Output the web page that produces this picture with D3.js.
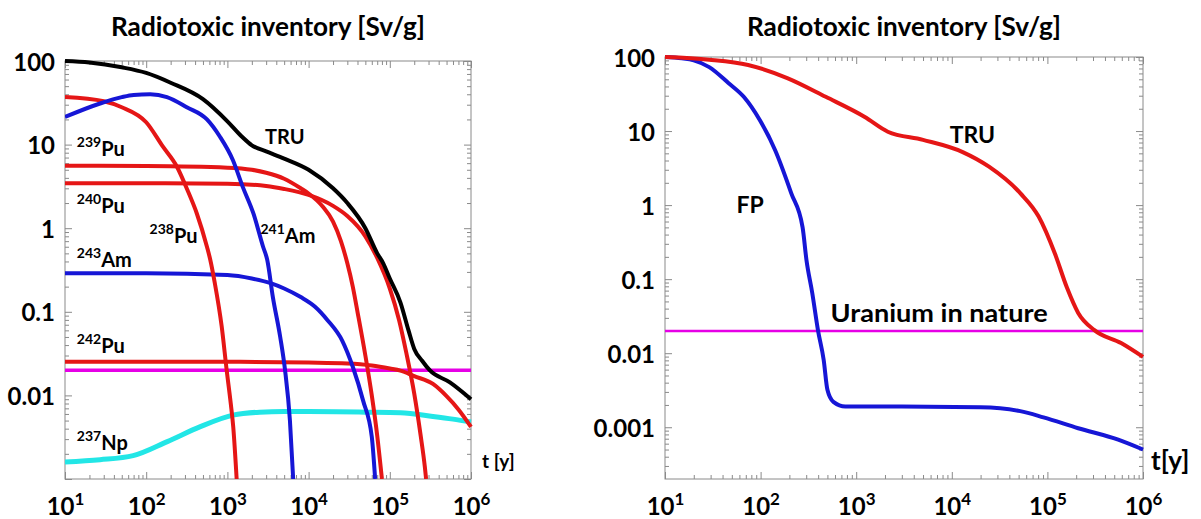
<!DOCTYPE html>
<html><head><meta charset="utf-8">
<script src="https://cdn.jsdelivr.net/npm/d3@7"></script>
<style>
html,body{margin:0;padding:0;background:#fff;}
svg{display:block;font-family:Lato,"Noto Sans",sans-serif;font-weight:bold;}
</style></head>
<body>
<svg id="chart" width="1201" height="519"></svg>
<script>
// ---------- data (year, Sv/g) ----------
const xTickValues = [1e1, 1e2, 1e3, 1e4, 1e5, 1e6];
const xTickExponents = ["1", "2", "3", "4", "5", "6"];
const yTicksLeft = [100, 10, 1, 0.1, 0.01];
const yTicksRight = [100, 10, 1, 0.1, 0.01, 0.001];
const uraniumLevel = 0.02;

const truLeft = [[10,100],[20,96],[50,84],[100,72],[200,55],[500,35],[1000,19],[1500,12.5],[2000,9.8],[3000,8.3],[5000,6.8],[1e4,5.0],[2e4,3.0],[3e4,2.0],[5e4,1.0],[7e4,0.5],[8.3e4,0.38],[1e5,0.25],[1.35e5,0.13],[1.7e5,0.06],[2e5,0.036],[2.5e5,0.026],[3.1e5,0.020],[5.5e5,0.0143],[1e6,0.009]];
const pu238 = [[10,37],[30,33],[50,28],[100,18.5],[160,9.5],[240,5.4],[320,2.9],[420,1.5],[560,0.6],[615,0.42],[700,0.22],[850,0.067],[980,0.02],[1100,0.008],[1180,0.0042],[1300,0.001]];
const am241 = [[10,21.4],[27,31],[50,37],[70,39.3],[112,40],[180,37],[316,28],[560,20],[810,12.4],[1170,6.5],[1550,3.1],[2090,1.5],[2750,0.6],[3090,0.42],[3630,0.15],[4470,0.05],[5130,0.02],[5890,0.005],[6460,0.001]];
const am243 = [[10,0.29],[100,0.29],[1000,0.275],[2000,0.25],[3400,0.22],[5000,0.19],[8000,0.15],[1.2e4,0.115],[1.7e4,0.08],[2.6e4,0.045],[3.5e4,0.022],[4.7e4,0.0086],[6e4,0.0032],[6.6e4,0.001]];
const puUpper = [[10,5.6],[100,5.55],[1000,5.3],[2000,5.0],[3000,4.6],[5000,3.9],[8000,3.0],[1e4,2.6],[1.5e4,1.8],[2e4,1.2],[2.5e4,0.7],[3e4,0.38],[3.5e4,0.2],[4e4,0.1],[5e4,0.03],[6e4,0.01],[7e4,0.0033],[8e4,0.001]];
const puLower = [[10,3.45],[100,3.45],[1000,3.4],[3000,3.2],[5000,2.95],[1e4,2.5],[2e4,1.85],[3e4,1.4],[5e4,0.8],[7e4,0.44],[1e5,0.19],[1.3e5,0.08],[1.6e5,0.032],[2e5,0.0105],[2.4e5,0.0033],[2.7e5,0.0014],[2.8e5,0.001]];
const pu242 = [[10,0.0252],[1e3,0.0252],[1e4,0.0247],[3e4,0.0241],[6e4,0.0228],[1e5,0.021],[1.35e5,0.0198],[2e5,0.017],[3.4e5,0.0137],[5e5,0.0098],[7e5,0.0068],[1e6,0.0042]];
const np237 = [[10,0.0016],[27,0.0017],[69,0.0019],[182,0.0028],[457,0.0042],[1170,0.0058],[2500,0.0063],[5000,0.0064],[1e4,0.0064],[5e4,0.0063],[1.35e5,0.0062],[3.4e5,0.0056],[6e5,0.0052],[1e6,0.0048]];

const truRight = [[10,100],[29,92],[74,78],[190,52],[480,29],[1230,15.5],[2140,9.8],[5000,7.6],[1.3e4,5.2],[2.45e4,3.3],[5.2e4,1.45],[8.1e4,0.7],[1.2e5,0.22],[1.6e5,0.077],[2.1e5,0.035],[3.1e5,0.0205],[5.9e5,0.0137],[1e6,0.0089]];
const fpRight = [[10,100],[15,96],[20,90],[29,73],[46,44.6],[67,28.8],[98,14.1],[142,5.5],[209,1.45],[275,0.5],[302,0.18],[347,0.065],[398,0.0205],[457,0.0081],[500,0.0032],[577,0.0022],[770,0.0019],[3000,0.0019],[2e4,0.00186],[5.2e4,0.00165],[9.1e4,0.00136],[2.1e5,0.00097],[5.5e5,0.00068],[1e6,0.0005]];

// ---------- layout ----------
const svg = d3.select("#chart");
const RED = "#e51616", BLUE = "#1616d6", CYAN = "#22e6e6", MAG = "#e600e6", BLACK = "#000";

function logMinor(lo, hi) {
  const out = [];
  for (let e = Math.floor(Math.log10(lo)); e < Math.ceil(Math.log10(hi)); e++) {
    for (let m = 2; m <= 9; m++) {
      const v = m * Math.pow(10, e);
      if (v > lo && v < hi) out.push(v);
    }
  }
  return out;
}

function panel(cfg) {
  const x = d3.scaleLog().domain([10, 1e6]).range(cfg.xr);
  const y = d3.scaleLog().domain(cfg.yd).range(cfg.yr);
  const g = svg.append("g");
  const [x0, x1] = cfg.xr, [yb, yt] = cfg.yr;
  const W = x1 - x0, H = yb - yt;

  // title
  g.append("text").attr("x", (x0 + x1) / 2).attr("y", 36).attr("text-anchor", "middle")
    .attr("font-size", 26).attr("textLength", 314).attr("lengthAdjust", "spacingAndGlyphs")
    .text("Radiotoxic inventory [Sv/g]");

  // minor + major ticks on all sides (inward)
  const tickCol = "#8a8a8a";
  const xMinor = logMinor(10, 1e6), yMinor = logMinor(cfg.yd[0], cfg.yd[1]);
  const yMajor = d3.range(Math.ceil(Math.log10(cfg.yd[0])), 3).map(e => Math.pow(10, e));
  const mk = (axis, tr) => {
    const a = g.append("g").attr("transform", tr).call(axis);
    a.select(".domain").remove();
    a.selectAll("line").attr("stroke", tickCol);
    return a;
  };
  mk(d3.axisBottom(x).tickValues(xMinor).tickSize(-4).tickFormat(""), `translate(0,${yb})`);
  mk(d3.axisTop(x).tickValues(xMinor).tickSize(-4).tickFormat(""), `translate(0,${yt})`);
  mk(d3.axisTop(x).tickValues(xTickValues).tickSize(-7).tickFormat(""), `translate(0,${yt})`);
  mk(d3.axisLeft(y).tickValues(yMinor).tickSize(-4).tickFormat(""), `translate(${x0},0)`);
  mk(d3.axisRight(y).tickValues(yMinor).tickSize(-4).tickFormat(""), `translate(${x1},0)`);
  mk(d3.axisRight(y).tickValues(yMajor).tickSize(-7).tickFormat(""), `translate(${x1},0)`);

  // bottom axis with labels 10^n
  const xa = mk(d3.axisBottom(x).tickValues(xTickValues).tickSize(-7).tickPadding(19).tickFormat(""), `translate(0,${yb})`);
  xa.selectAll(".tick text").each(function(d, i) {
    const t = d3.select(this).attr("font-size", 24).attr("font-family", "Lato").attr("font-weight", "bold")
      .attr("fill", "#000").attr("dy", "0.71em");
    t.append("tspan").text("10");
    t.append("tspan").attr("dy", -10).attr("font-size", 17).text(xTickExponents[i]);
  });

  // left axis labels
  const ya = mk(d3.axisLeft(y).tickValues(yMajor).tickSize(-7).tickPadding(10)
      .tickFormat(d => cfg.yLabels.includes(d) ? String(d) : ""), `translate(${x0},0)`);
  ya.selectAll(".tick text").attr("font-size", 24).attr("font-family", "Lato").attr("font-weight", "bold")
    .attr("fill", "#000").attr("dy", "0.38em");

  // frame
  g.append("rect").attr("x", x0).attr("y", yt).attr("width", W).attr("height", H)
    .attr("fill", "none").attr("stroke", "#8a8a8a").attr("stroke-width", 1);

  // clip
  const cid = "clip" + cfg.id;
  svg.append("clipPath").attr("id", cid).append("rect")
    .attr("x", x0).attr("y", yt - 3).attr("width", W + 3).attr("height", H + 3);
  const plot = g.append("g").attr("clip-path", `url(#${cid})`);
  const line = d3.line().x(d => x(d[0])).y(d => y(d[1])).curve(d3.curveMonotoneX);

  cfg.series.forEach(s => {
    plot.append("path").datum(s.data).attr("d", line).attr("fill", "none")
      .attr("stroke", s.color).attr("stroke-width", s.w).attr("stroke-linejoin", "round");
  });

  // labels
  cfg.labels.forEach(l => {
    const t = g.append("text").attr("x", l.px != null ? l.px : x(l.t)).attr("y", y(l.v))
      .attr("font-size", l.fs).attr("fill", "#000");
    if (l.sup) {
      t.append("tspan").attr("font-size", l.fs * 0.7).attr("dy", -9).text(l.sup);
      t.append("tspan").attr("dy", 9).text(l.text);
    } else {
      t.text(l.text);
      if (l.len) t.attr("textLength", l.len).attr("lengthAdjust", "spacingAndGlyphs");
    }
  });
}

panel({
  id: "L", xr: [65, 471], yd: [1e-3, 100], yr: [479, 61], yLabels: yTicksLeft,
  series: [
    {data: [[10, uraniumLevel], [1e6, uraniumLevel]], color: MAG, w: 3.5},
    {data: np237, color: CYAN, w: 5},
    {data: pu242, color: RED, w: 4},
    {data: am243, color: BLUE, w: 4},
    {data: pu238, color: RED, w: 4},
    {data: puLower, color: RED, w: 4},
    {data: puUpper, color: RED, w: 4},
    {data: am241, color: BLUE, w: 4},
    {data: truLeft, color: BLACK, w: 4}
  ],
  labels: [
    {text: "TRU", t: 2900, v: 10.2, fs: 20},
    {sup: "239", text: "Pu", t: 14, v: 7.31, fs: 20},
    {sup: "240", text: "Pu", t: 14, v: 1.52, fs: 20},
    {sup: "238", text: "Pu", t: 110, v: 0.66, fs: 20},
    {sup: "241", text: "Am", t: 2550, v: 0.66, fs: 20},
    {sup: "243", text: "Am", t: 14, v: 0.344, fs: 20},
    {sup: "242", text: "Pu", t: 14, v: 0.0321, fs: 20},
    {sup: "237", text: "Np", t: 14, v: 0.00222, fs: 20},
    {text: "t [y]", px: 482, v: 0.00135, fs: 19}
  ]
});

panel({
  id: "R", xr: [665, 1143], yd: [2e-4, 100], yr: [479, 57], yLabels: yTicksRight,
  series: [
    {data: [[10, uraniumLevel], [1e6, uraniumLevel]], color: MAG, w: 2.5},
    {data: fpRight, color: BLUE, w: 4},
    {data: truRight, color: RED, w: 4}
  ],
  labels: [
    {text: "TRU", t: 9500, v: 6.88, fs: 23},
    {text: "FP", t: 56, v: 0.78, fs: 23},
    {text: "Uranium in nature", t: 540, v: 0.0262, fs: 24, len: 217},
    {text: "t[y]", px: 1151, v: 2.62e-4, fs: 26}
  ]
});
</script>
</body></html>
